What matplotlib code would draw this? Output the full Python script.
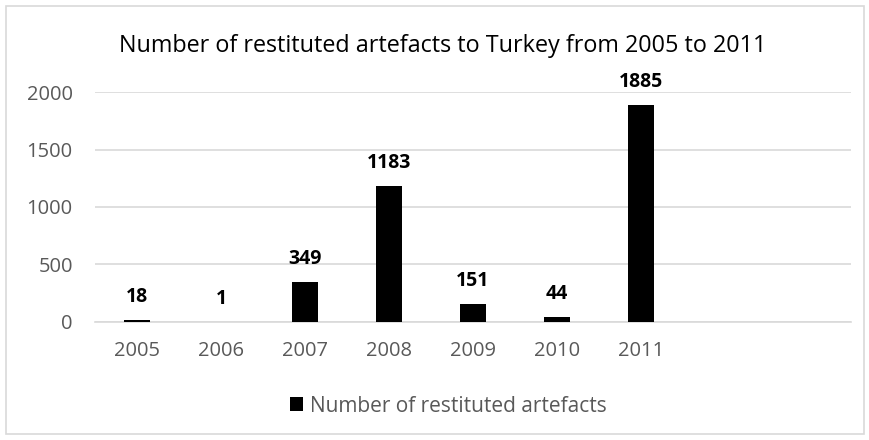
import matplotlib
matplotlib.use("Agg")
import matplotlib.pyplot as plt
from matplotlib.patches import Rectangle

# data
years = ["2005", "2006", "2007", "2008", "2009", "2010", "2011"]
artefacts = [18, 1, 349, 1183, 151, 44, 1885]
yticks = [0, 500, 1000, 1500, 2000]
title = "Number of restituted artefacts to Turkey from 2005 to 2011"
series_name = "Number of restituted artefacts"

plt.rcParams['font.family'] = ['Open Sans', 'DejaVu Sans']

W, H = 870, 440
fig = plt.figure(figsize=(W / 100, H / 100), dpi=100)
ax = fig.add_axes([95 / W, 1 - 321.7 / H, (851 - 95) / W, (321.7 - 92.3) / H])

x = list(range(len(years)))
bars = ax.bar(x, artefacts, width=0.31, color='black', label=series_name, zorder=3)

# bold value labels above each bar
for xi, v in zip(x, artefacts):
    ax.annotate(str(v), (xi, v), xytext=(0, 13), textcoords='offset points',
                ha='center', va='baseline', fontsize=14, fontweight='bold', color='black')

# excel leaves two empty category slots on the right
ax.set_xlim(-0.5, 8.5)
ax.set_ylim(0, 2000)
ax.set_xticks(x)
ax.set_xticklabels(years)
ax.set_yticks(yticks)
ax.tick_params(axis='both', length=0, labelsize=14.5, labelcolor='#595959')
ax.tick_params(axis='y', pad=16)
ax.tick_params(axis='x', pad=14)
ax.grid(axis='y', color='#D9D9D9', linewidth=1.2, zorder=0)
for s in ['top', 'right', 'left']:
    ax.spines[s].set_visible(False)
ax.spines['bottom'].set_color('#D9D9D9')
ax.spines['bottom'].set_linewidth(1.2)

fig.text(443 / W, 1 - 52 / H, title, ha='center', va='baseline', fontsize=16.8, color='black')

fig.legend(handles=[bars], labels=[series_name], loc='center',
           bbox_to_anchor=(448 / W, 1 - 406 / H), frameon=False, fontsize=15,
           labelcolor='#595959', handlelength=0.65, handleheight=0.65, handletextpad=0.3)

# light frame round the whole chart
fig.patches.append(Rectangle((6 / W, 6 / H), (W - 12) / W, (H - 12) / H,
                             transform=fig.transFigure, fill=False,
                             edgecolor='#D9D9D9', linewidth=1.2))

fig.savefig("out.png", dpi=100, facecolor='white')
